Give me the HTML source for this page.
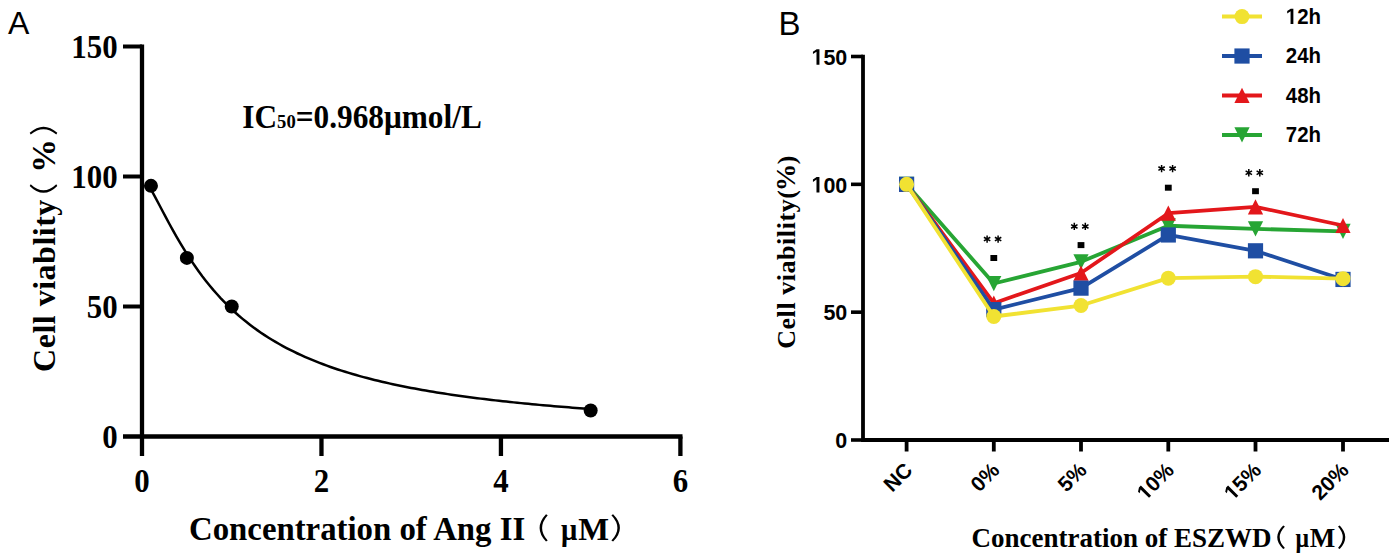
<!DOCTYPE html>
<html><head><meta charset="utf-8"><style>html,body{margin:0;padding:0;background:#fff;}svg{display:block;}</style></head>
<body><svg width="1395" height="559" viewBox="0 0 1395 559">
<rect width="1395" height="559" fill="#fff"/>
<text x="8" y="34" font-family='"Liberation Sans", sans-serif' font-size="32" fill="#000">A</text>
<path d="M142.0 44.5 V456 M123 436.5 H682.5" stroke="#000" stroke-width="4.3" fill="none"/>
<path d="M123 306.5 H142.0" stroke="#000" stroke-width="4" />
<path d="M123 176.5 H142.0" stroke="#000" stroke-width="4" />
<path d="M123 46.5 H142.0" stroke="#000" stroke-width="4" />
<path d="M321.4666666666667 436.5 V456" stroke="#000" stroke-width="4.3" />
<path d="M500.93333333333334 436.5 V456" stroke="#000" stroke-width="4.3" />
<path d="M680.4 436.5 V456" stroke="#000" stroke-width="4.3" />
<text transform="translate(117.6 448.20) scale(0.93 1)" text-anchor="end" font-family='"Liberation Serif", serif' font-weight="bold" font-size="33.2">0</text>
<text transform="translate(117.6 318.20) scale(0.93 1)" text-anchor="end" font-family='"Liberation Serif", serif' font-weight="bold" font-size="33.2">50</text>
<text transform="translate(117.6 188.20) scale(0.93 1)" text-anchor="end" font-family='"Liberation Serif", serif' font-weight="bold" font-size="33.2">100</text>
<text transform="translate(117.6 58.20) scale(0.93 1)" text-anchor="end" font-family='"Liberation Serif", serif' font-weight="bold" font-size="33.2">150</text>
<text transform="translate(142.00 491.5) scale(0.93 1)" text-anchor="middle" font-family='"Liberation Serif", serif' font-weight="bold" font-size="33.2">0</text>
<text transform="translate(321.47 491.5) scale(0.93 1)" text-anchor="middle" font-family='"Liberation Serif", serif' font-weight="bold" font-size="33.2">2</text>
<text transform="translate(500.93 491.5) scale(0.93 1)" text-anchor="middle" font-family='"Liberation Serif", serif' font-weight="bold" font-size="33.2">4</text>
<text transform="translate(680.40 491.5) scale(0.93 1)" text-anchor="middle" font-family='"Liberation Serif", serif' font-weight="bold" font-size="33.2">6</text>
<polyline points="150.97,189.42 154.64,196.11 158.30,203.03 161.97,209.99 165.63,216.92 169.29,223.74 172.96,230.40 176.62,236.88 180.29,243.15 183.95,249.21 187.61,255.05 191.28,260.66 194.94,266.05 198.61,271.22 202.27,276.19 205.94,280.94 209.60,285.50 213.26,289.87 216.93,294.05 220.59,298.06 224.26,301.90 227.92,305.58 231.58,309.11 235.25,312.49 238.91,315.74 242.58,318.85 246.24,321.84 249.90,324.71 253.57,327.47 257.23,330.12 260.90,332.67 264.56,335.12 268.22,337.47 271.89,339.74 275.55,341.93 279.22,344.04 282.88,346.07 286.55,348.03 290.21,349.92 293.87,351.74 297.54,353.50 301.20,355.20 304.87,356.85 308.53,358.44 312.19,359.97 315.86,361.46 319.52,362.90 323.19,364.29 326.85,365.64 330.51,366.95 334.18,368.22 337.84,369.45 341.51,370.64 345.17,371.79 348.84,372.92 352.50,374.01 356.16,375.07 359.83,376.09 363.49,377.09 367.16,378.07 370.82,379.01 374.48,379.93 378.15,380.83 381.81,381.70 385.48,382.54 389.14,383.37 392.80,384.17 396.47,384.96 400.13,385.72 403.80,386.47 407.46,387.19 411.13,387.90 414.79,388.59 418.45,389.26 422.12,389.92 425.78,390.56 429.45,391.19 433.11,391.81 436.77,392.40 440.44,392.99 444.10,393.56 447.77,394.12 451.43,394.67 455.09,395.20 458.76,395.72 462.42,396.23 466.09,396.73 469.75,397.22 473.42,397.70 477.08,398.17 480.74,398.63 484.41,399.08 488.07,399.52 491.74,399.96 495.40,400.38 499.06,400.80 502.73,401.20 506.39,401.60 510.06,401.99 513.72,402.38 517.38,402.75 521.05,403.12 524.71,403.48 528.38,403.84 532.04,404.19 535.70,404.53 539.37,404.87 543.03,405.20 546.70,405.52 550.36,405.84 554.03,406.15 557.69,406.46 561.35,406.76 565.02,407.06 568.68,407.35 572.35,407.63 576.01,407.92 579.67,408.19 583.34,408.47 587.00,408.73 590.67,409.00" fill="none" stroke="#000" stroke-width="2.5"/>
<circle cx="150.97" cy="185.86" r="7" fill="#000"/>
<circle cx="186.87" cy="257.88" r="7" fill="#000"/>
<circle cx="231.73" cy="306.50" r="7" fill="#000"/>
<circle cx="590.67" cy="410.50" r="7" fill="#000"/>
<text transform="translate(242.3 127.9) scale(0.955 1)" font-family='"Liberation Serif", serif' font-weight="bold" font-size="32.8">IC<tspan font-size="19.5">50</tspan>=0.968μmol/L</text>
<g transform="translate(55.4 371.4) rotate(-90)"><text x="-0.5" y="0" font-family='"Liberation Serif", serif' font-weight="bold" font-size="32" letter-spacing="0.5">Cell viablity</text><text transform="translate(198.67 -0.10) scale(1.1208 1.1012)" font-family='"Liberation Serif", serif' font-weight="bold" font-size="30">%</text></g>
<path transform="translate(29.7 192.8) rotate(-90)" d="M6.90 0 Q-6.90 13.80 6.90 27.60 L8.60 26.60 Q-3.60 13.80 8.60 1.00Z" fill="#000"/>
<path transform="translate(29.7 126.7) rotate(-90) scale(-1 1)" d="M6.10 0 Q-6.10 13.80 6.10 27.60 L7.80 26.60 Q-2.80 13.80 7.80 1.00Z" fill="#000"/>
<text x="189" y="540.2" font-family='"Liberation Serif", serif' font-weight="bold" font-size="32.8">Concentration of Ang II</text>
<text transform="translate(561 540.2) scale(0.88 1)" font-family='"Liberation Serif", serif' font-weight="bold" font-size="32.6">μ</text>
<text x="578.3" y="540.2" font-family='"Liberation Serif", serif' font-weight="bold" font-size="32.6">M</text>
<path transform="translate(539.6 514.2)" d="M6.40 0 Q-6.40 13.70 6.40 27.40 L8.10 26.40 Q-3.10 13.70 8.10 1.00Z" fill="#000"/>
<path transform="translate(619.9 514.2) scale(-1 1)" d="M6.80 0 Q-6.80 13.70 6.80 27.40 L8.50 26.40 Q-3.50 13.70 8.50 1.00Z" fill="#000"/>
<text x="778.5" y="34.8" font-family='"Liberation Sans", sans-serif' font-size="33" fill="#000">B</text>
<path d="M863.0 54.7 V440.0 H1389" stroke="#000" stroke-width="3.8" fill="none"/>
<path d="M851 440.0 H863.0" stroke="#000" stroke-width="3.6" />
<g transform="translate(847.3 448.20) scale(0.95 1)"><text x="-12.569" y="0" font-family='"Liberation Sans", sans-serif' font-weight="bold" font-size="22.6" fill="#000">0</text></g>
<path d="M851 312.1666666666667 H863.0" stroke="#000" stroke-width="3.6" />
<g transform="translate(847.3 320.37) scale(0.95 1)"><text x="-25.138" y="0" font-family='"Liberation Sans", sans-serif' font-weight="bold" font-size="22.6" fill="#000">50</text></g>
<path d="M851 184.33333333333334 H863.0" stroke="#000" stroke-width="3.6" />
<g transform="translate(847.3 192.53) scale(0.95 1)"><text x="-37.707" y="0" font-family='"Liberation Sans", sans-serif' font-weight="bold" font-size="22.6" fill="#000"> 00</text><path transform="translate(-37.707 0) scale(0.01104 -0.01104)" d="M478 0L759 0L759 1409L493 1409L140 1180L140 959L478 1170Z" fill="#000"/></g>
<path d="M851 56.5 H863.0" stroke="#000" stroke-width="3.6" />
<g transform="translate(847.3 64.70) scale(0.95 1)"><text x="-37.707" y="0" font-family='"Liberation Sans", sans-serif' font-weight="bold" font-size="22.6" fill="#000"> 50</text><path transform="translate(-37.707 0) scale(0.01104 -0.01104)" d="M478 0L759 0L759 1409L493 1409L140 1180L140 959L478 1170Z" fill="#000"/></g>
<path d="M906.6 440.0 V451.5" stroke="#000" stroke-width="3.8" />
<g transform="translate(913.6 471.6) rotate(-45)"><text x="-30.331" y="0" font-family='"Liberation Sans", sans-serif' font-weight="bold" font-size="21" fill="#000">NC</text></g>
<path d="M993.8 440.0 V451.5" stroke="#000" stroke-width="3.8" />
<g transform="translate(1000.8 471.6) rotate(-45)"><text x="-30.352" y="0" font-family='"Liberation Sans", sans-serif' font-weight="bold" font-size="21" fill="#000">0%</text></g>
<path d="M1081.0 440.0 V451.5" stroke="#000" stroke-width="3.8" />
<g transform="translate(1088.0 471.6) rotate(-45)"><text x="-30.352" y="0" font-family='"Liberation Sans", sans-serif' font-weight="bold" font-size="21" fill="#000">5%</text></g>
<path d="M1168.3 440.0 V451.5" stroke="#000" stroke-width="3.8" />
<g transform="translate(1175.3 471.6) rotate(-45)"><text x="-42.031" y="0" font-family='"Liberation Sans", sans-serif' font-weight="bold" font-size="21" fill="#000"> 0%</text><path transform="translate(-42.031 0) scale(0.01025 -0.01025)" d="M478 0L759 0L759 1409L493 1409L140 1180L140 959L478 1170Z" fill="#000"/></g>
<path d="M1255.5 440.0 V451.5" stroke="#000" stroke-width="3.8" />
<g transform="translate(1262.5 471.6) rotate(-45)"><text x="-42.031" y="0" font-family='"Liberation Sans", sans-serif' font-weight="bold" font-size="21" fill="#000"> 5%</text><path transform="translate(-42.031 0) scale(0.01025 -0.01025)" d="M478 0L759 0L759 1409L493 1409L140 1180L140 959L478 1170Z" fill="#000"/></g>
<path d="M1343.0 440.0 V451.5" stroke="#000" stroke-width="3.8" />
<g transform="translate(1350.0 471.6) rotate(-45)"><text x="-42.031" y="0" font-family='"Liberation Sans", sans-serif' font-weight="bold" font-size="21" fill="#000">20%</text></g>
<polyline points="906.60,184.33 993.80,283.53 1081.00,261.80 1168.30,225.75 1255.50,228.82 1343.00,231.38" fill="none" stroke="#27a534" stroke-width="3.8" stroke-linejoin="round"/>
<path d="M906.60 191.93 L914.20 176.73 L899.00 176.73Z" fill="#27a534"/>
<path d="M993.80 291.13 L1001.40 275.93 L986.20 275.93Z" fill="#27a534"/>
<path d="M1081.00 269.40 L1088.60 254.20 L1073.40 254.20Z" fill="#27a534"/>
<path d="M1168.30 233.35 L1175.90 218.15 L1160.70 218.15Z" fill="#27a534"/>
<path d="M1255.50 236.42 L1263.10 221.22 L1247.90 221.22Z" fill="#27a534"/>
<path d="M1343.00 238.98 L1350.60 223.78 L1335.40 223.78Z" fill="#27a534"/>
<polyline points="906.60,184.33 993.80,303.22 1081.00,273.05 1168.30,213.22 1255.50,206.83 1343.00,225.50" fill="none" stroke="#e3171b" stroke-width="3.8" stroke-linejoin="round"/>
<path d="M906.60 176.73 L914.20 191.93 L899.00 191.93Z" fill="#e3171b"/>
<path d="M993.80 295.62 L1001.40 310.82 L986.20 310.82Z" fill="#e3171b"/>
<path d="M1081.00 265.45 L1088.60 280.65 L1073.40 280.65Z" fill="#e3171b"/>
<path d="M1168.30 205.62 L1175.90 220.82 L1160.70 220.82Z" fill="#e3171b"/>
<path d="M1255.50 199.23 L1263.10 214.43 L1247.90 214.43Z" fill="#e3171b"/>
<path d="M1343.00 217.90 L1350.60 233.10 L1335.40 233.10Z" fill="#e3171b"/>
<polyline points="906.60,184.33 993.80,309.61 1081.00,288.13 1168.30,234.96 1255.50,250.81 1343.00,279.44" fill="none" stroke="#1f4ea3" stroke-width="3.8" stroke-linejoin="round"/>
<rect x="899.00" y="176.73" width="15.2" height="15.2" fill="#1f4ea3"/>
<rect x="986.20" y="302.01" width="15.2" height="15.2" fill="#1f4ea3"/>
<rect x="1073.40" y="280.53" width="15.2" height="15.2" fill="#1f4ea3"/>
<rect x="1160.70" y="227.36" width="15.2" height="15.2" fill="#1f4ea3"/>
<rect x="1247.90" y="243.21" width="15.2" height="15.2" fill="#1f4ea3"/>
<rect x="1335.40" y="271.84" width="15.2" height="15.2" fill="#1f4ea3"/>
<polyline points="906.60,184.33 993.80,316.51 1081.00,305.52 1168.30,278.16 1255.50,276.63 1343.00,278.67" fill="none" stroke="#f1e232" stroke-width="3.8" stroke-linejoin="round"/>
<circle cx="906.60" cy="184.33" r="7.5" fill="#f1e232"/>
<circle cx="993.80" cy="316.51" r="7.5" fill="#f1e232"/>
<circle cx="1081.00" cy="305.52" r="7.5" fill="#f1e232"/>
<circle cx="1168.30" cy="278.16" r="7.5" fill="#f1e232"/>
<circle cx="1255.50" cy="276.63" r="7.5" fill="#f1e232"/>
<circle cx="1343.00" cy="278.67" r="7.5" fill="#f1e232"/>
<path d="M987.10 235.40 L987.10 242.80 M983.90 237.25 L990.30 240.95 M990.30 237.25 L983.90 240.95 " stroke="#000" stroke-width="1.5" fill="none"/>
<path d="M998.10 235.40 L998.10 242.80 M994.90 237.25 L1001.30 240.95 M1001.30 237.25 L994.90 240.95 " stroke="#000" stroke-width="1.5" fill="none"/>
<rect x="990.40" y="255.00" width="6.8" height="6" fill="#000"/>
<path d="M1074.30 222.70 L1074.30 230.10 M1071.10 224.55 L1077.50 228.25 M1077.50 224.55 L1071.10 228.25 " stroke="#000" stroke-width="1.5" fill="none"/>
<path d="M1085.30 222.70 L1085.30 230.10 M1082.10 224.55 L1088.50 228.25 M1088.50 224.55 L1082.10 228.25 " stroke="#000" stroke-width="1.5" fill="none"/>
<rect x="1077.60" y="242.10" width="6.8" height="6" fill="#000"/>
<path d="M1161.60 164.90 L1161.60 172.30 M1158.40 166.75 L1164.80 170.45 M1164.80 166.75 L1158.40 170.45 " stroke="#000" stroke-width="1.5" fill="none"/>
<path d="M1172.60 164.90 L1172.60 172.30 M1169.40 166.75 L1175.80 170.45 M1175.80 166.75 L1169.40 170.45 " stroke="#000" stroke-width="1.5" fill="none"/>
<rect x="1164.90" y="184.70" width="6.8" height="6" fill="#000"/>
<path d="M1248.80 169.10 L1248.80 176.50 M1245.60 170.95 L1252.00 174.65 M1252.00 170.95 L1245.60 174.65 " stroke="#000" stroke-width="1.5" fill="none"/>
<path d="M1259.80 169.10 L1259.80 176.50 M1256.60 170.95 L1263.00 174.65 M1263.00 170.95 L1256.60 174.65 " stroke="#000" stroke-width="1.5" fill="none"/>
<rect x="1252.10" y="188.20" width="6.8" height="6" fill="#000"/>
<path d="M1222 16.60 H1262" stroke="#f1e232" stroke-width="4"/>
<circle cx="1242.00" cy="16.60" r="7.5" fill="#f1e232"/>
<g transform="translate(1285.8 23.90) scale(0.92 1)"><text x="0.000" y="0" font-family='"Liberation Sans", sans-serif' font-weight="bold" font-size="22.2" fill="#000"> 2h</text><path transform="translate(0.000 0) scale(0.01084 -0.01084)" d="M478 0L759 0L759 1409L493 1409L140 1180L140 959L478 1170Z" fill="#000"/></g>
<path d="M1222 56.03 H1262" stroke="#1f4ea3" stroke-width="4"/>
<rect x="1234.40" y="48.43" width="15.2" height="15.2" fill="#1f4ea3"/>
<g transform="translate(1285.8 63.33) scale(0.92 1)"><text x="0.000" y="0" font-family='"Liberation Sans", sans-serif' font-weight="bold" font-size="22.2" fill="#000">24h</text></g>
<path d="M1222 95.46 H1262" stroke="#e3171b" stroke-width="4"/>
<path d="M1242.00 87.86 L1249.60 103.06 L1234.40 103.06Z" fill="#e3171b"/>
<g transform="translate(1285.8 102.76) scale(0.92 1)"><text x="0.000" y="0" font-family='"Liberation Sans", sans-serif' font-weight="bold" font-size="22.2" fill="#000">48h</text></g>
<path d="M1222 134.89 H1262" stroke="#27a534" stroke-width="4"/>
<path d="M1242.00 142.49 L1249.60 127.29 L1234.40 127.29Z" fill="#27a534"/>
<g transform="translate(1285.8 142.19) scale(0.92 1)"><text x="0.000" y="0" font-family='"Liberation Sans", sans-serif' font-weight="bold" font-size="22.2" fill="#000">72h</text></g>
<g transform="translate(795.2 348.8) rotate(-90)"><text x="0" y="0" font-family='"Liberation Serif", serif' font-weight="bold" font-size="26" letter-spacing="0.55">Cell viability(</text><text transform="translate(157.50 -0.52) scale(0.9208 0.9235)" font-family='"Liberation Serif", serif' font-weight="bold" font-size="30">%</text><text x="184.6" y="0" font-family='"Liberation Serif", serif' font-weight="bold" font-size="26">)</text></g>
<text x="971.5" y="547.3" font-family='"Liberation Serif", serif' font-weight="bold" font-size="27">Concentration of ESZWD</text>
<text transform="translate(1295.5 547.3) scale(0.88 1)" font-family='"Liberation Serif", serif' font-weight="bold" font-size="27">μ</text>
<text x="1309.8" y="547.3" font-family='"Liberation Serif", serif' font-weight="bold" font-size="27">M</text>
<path transform="translate(1277.2 525.5)" d="M6.00 0 Q-6.00 11.75 6.00 23.50 L7.70 22.50 Q-2.70 11.75 7.70 1.00Z" fill="#000"/>
<path transform="translate(1345.3 525.5) scale(-1 1)" d="M5.60 0 Q-5.60 11.75 5.60 23.50 L7.30 22.50 Q-2.30 11.75 7.30 1.00Z" fill="#000"/>
</svg></body></html>
